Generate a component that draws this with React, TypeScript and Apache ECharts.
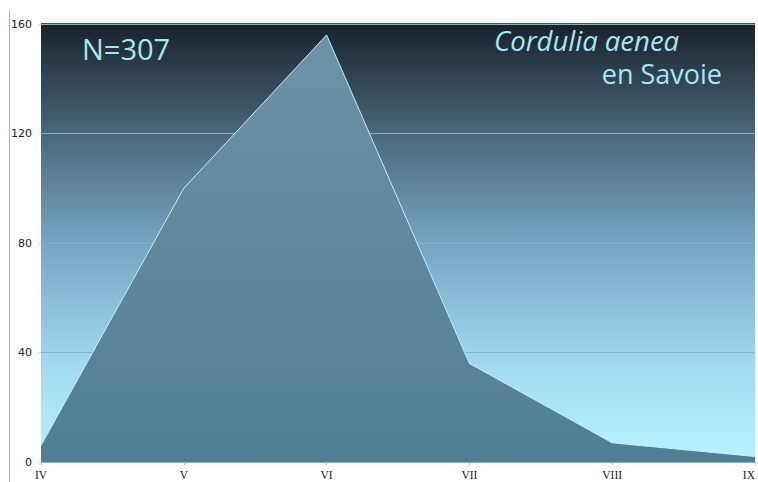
import React, { useEffect, useRef } from "react";
import * as echarts from "echarts";

const months = ["IV", "V", "VI", "VII", "VIII", "IX"];
const counts = [6, 100, 156, 36, 7, 2];
const yTicks = [0, 40, 80, 120, 160];

export default function App() {
  const ref = useRef<HTMLDivElement>(null);
  useEffect(() => {
    const chart = echarts.init(ref.current!, null, { renderer: "svg" });
    chart.setOption({
      animation: false,
      grid: { left: 41, right: 3, top: 24, bottom: 20, show: true, borderWidth: 0,
        outerBoundsMode: "none", containLabel: false,
        backgroundColor: new echarts.graphic.LinearGradient(0, 0, 0, 1, [
          { offset: 0, color: "#18222c" },
          { offset: 0.25, color: "#4a677a" },
          { offset: 0.5, color: "#76a6c2" },
          { offset: 0.78, color: "#a0daf0" },
          { offset: 1, color: "#b8f4ff" },
        ]) },
      xAxis: {
        type: "category", data: months, boundaryGap: false,
        axisLine: { show: false },
        axisTick: { show: true, length: 3, lineStyle: { color: "#bbb" } },
        axisLabel: { color: "#222", fontFamily: "Liberation Serif", fontSize: 11.5, margin: 7,
          hideOverlap: false, showMaxLabel: true, alignMaxLabel: "right" },
      },
      yAxis: {
        type: "value", min: 0, max: 160, interval: 40,
        axisLine: { show: false },
        axisTick: { show: true, length: 2, lineStyle: { color: "#ccc" } },
        axisLabel: { color: "#222", fontFamily: "DejaVu Sans", fontSize: 11, margin: 9,
          formatter: (v: number) => (yTicks.includes(v) ? String(v) : "") },
        splitLine: { lineStyle: { color: "#86b2c8", width: 1 } },
      },
      graphic: [
        { type: "line", shape: { x1: 9.5, y1: 10, x2: 9.5, y2: 482 }, style: { stroke: "#b0b8c0", lineWidth: 1 } },
        { type: "line", shape: { x1: 41, y1: 24, x2: 755, y2: 24 }, style: { stroke: "#101820", lineWidth: 1.5 } },
        { type: "text", left: 82, top: 34, style: { text: "N=307", fill: "#a8e6f2", font: "29px 'Open Sans'" } },
        { type: "text", left: 494, top: 27, style: { text: "Cordulia aenea", fill: "#a8e6f2", font: "italic 27.5px 'Open Sans'" } },
        { type: "text", right: 36, top: 60, style: { text: "en Savoie", fill: "#a8e6f2", font: "27px 'Open Sans'" } },
      ],
      series: [{
        type: "line", data: counts, symbol: "none", z: 3,
        lineStyle: { color: "#bfefff", width: 1 },
        areaStyle: { opacity: 1, color: new echarts.graphic.LinearGradient(0, 0, 0, 1, [
          { offset: 0, color: "#6d93a8" },
          { offset: 0.5, color: "#5f889d" },
          { offset: 1, color: "#517e94" },
        ]) },
      }],
    });
    return () => chart.dispose();
  }, []);
  return <div ref={ref} style={{ width: 758, height: 482, position: "absolute", left: 0, top: 0 }} />;
}
